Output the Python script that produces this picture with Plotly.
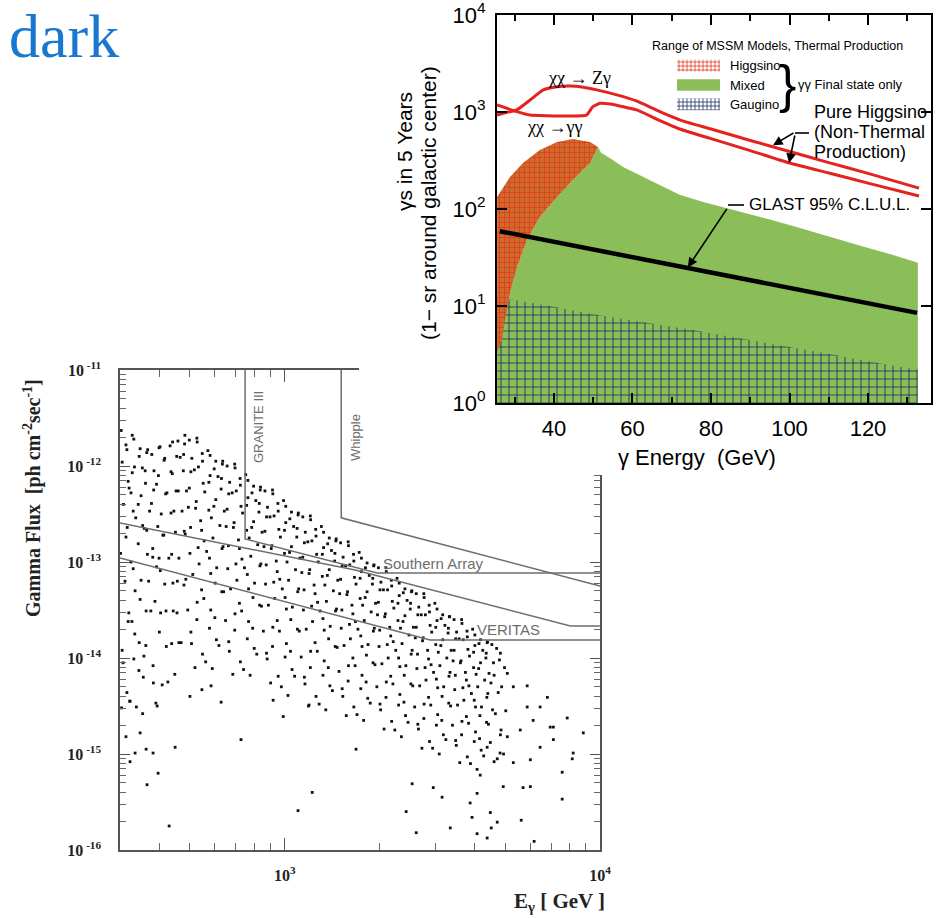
import numpy as np
import plotly.graph_objects as go

W, H = 937, 918

# ------------------------------------------------------------------
# Bottom chart (gamma flux vs energy), values stored as log10
# ------------------------------------------------------------------
BAND_LOGE = [
    2.481, 2.496, 2.484, 2.503, 2.488, 2.500, 2.479, 2.493, 2.505, 2.484, 2.499,
    2.521, 2.538, 2.516, 2.544, 2.527, 2.535, 2.519, 2.541, 2.524, 2.537, 2.529,
    2.565, 2.578, 2.557, 2.584, 2.571, 2.562, 2.581, 2.568, 2.575, 2.559, 2.583,
    2.604, 2.617, 2.599, 2.622, 2.608, 2.613, 2.601, 2.619, 2.606, 2.624, 2.611,
    2.644, 2.657, 2.639, 2.662, 2.648, 2.653, 2.641, 2.659, 2.646, 2.664, 2.651,
    2.683, 2.697, 2.679, 2.702, 2.688, 2.694, 2.681, 2.699, 2.686, 2.692, 2.704,
    2.722, 2.738, 2.726, 2.741, 2.719, 2.733, 2.744, 2.728, 2.736, 2.721, 2.739,
    2.763, 2.776, 2.759, 2.781, 2.767, 2.772, 2.761, 2.779, 2.765, 2.783, 2.770,
    2.803, 2.817, 2.799, 2.822, 2.808, 2.814, 2.801, 2.819, 2.806, 2.812, 2.824,
    2.842, 2.858, 2.846, 2.861, 2.839, 2.853, 2.864, 2.848, 2.856, 2.841, 2.859,
    2.883, 2.896, 2.879, 2.901, 2.887, 2.892, 2.881, 2.899, 2.885, 2.903, 2.890,
    2.923, 2.937, 2.919, 2.942, 2.928, 2.934, 2.921, 2.939, 2.926, 2.932, 2.944,
    2.962, 2.978, 2.966, 2.981, 2.959, 2.973, 2.984, 2.968, 2.976, 2.961, 2.979,
    3.003, 3.016, 2.999, 3.021, 3.007, 3.012, 3.001, 3.019, 3.005, 3.023, 3.010,
    3.043, 3.057, 3.039, 3.062, 3.048, 3.054, 3.041, 3.059, 3.046, 3.052, 3.064,
    3.082, 3.098, 3.086, 3.101, 3.079, 3.093, 3.104, 3.088, 3.096, 3.081, 3.099,
    3.123, 3.136, 3.119, 3.141, 3.127, 3.132, 3.121, 3.139, 3.125, 3.143, 3.130,
    3.163, 3.177, 3.159, 3.182, 3.168, 3.174, 3.161, 3.179, 3.166, 3.172, 3.184,
    3.202, 3.218, 3.206, 3.221, 3.199, 3.213, 3.224, 3.208, 3.216, 3.201, 3.219,
    3.243, 3.256, 3.239, 3.261, 3.247, 3.252, 3.241, 3.259, 3.245, 3.263, 3.250,
    3.283, 3.297, 3.279, 3.302, 3.288, 3.294, 3.281, 3.299, 3.286, 3.292, 3.304,
    3.322, 3.338, 3.326, 3.341, 3.319, 3.333, 3.344, 3.328, 3.336, 3.321, 3.339,
    3.363, 3.376, 3.359, 3.381, 3.367, 3.372, 3.361, 3.379, 3.365, 3.383, 3.370,
    3.403, 3.417, 3.399, 3.422, 3.408, 3.414, 3.401, 3.419, 3.406, 3.412, 3.424,
    3.442, 3.458, 3.446, 3.461, 3.439, 3.453, 3.464, 3.448, 3.456, 3.441, 3.459,
    3.483, 3.496, 3.479, 3.501, 3.487, 3.492, 3.481, 3.499, 3.485, 3.503, 3.490,
    3.523, 3.537, 3.519, 3.542, 3.528, 3.534, 3.521, 3.539, 3.526, 3.532, 3.544,
    3.562, 3.578, 3.566, 3.581, 3.559, 3.573, 3.584, 3.568, 3.576, 3.561, 3.579,
    3.603, 3.616, 3.599, 3.621, 3.607, 3.612, 3.601, 3.619, 3.605, 3.623, 3.610,
    3.643, 3.657, 3.639, 3.662, 3.648, 3.654, 3.641, 3.659, 3.646, 3.652, 3.664,
    3.684, 3.697, 3.688, 3.701, 3.686, 3.694,
    2.482, 2.508, 2.549, 2.591, 2.487, 2.512, 2.549, 2.593, 2.515, 2.553,
]
BAND_LOGF = [
    -11.63, -11.78, -11.96, -12.16, -12.40, -12.64, -12.91, -13.20, -13.53, -13.92, -14.36,
    -11.72, -11.90, -12.07, -12.31, -12.54, -12.81, -13.07, -13.39, -13.75, -14.13, -14.51,
    -11.83, -11.88, -12.05, -12.25, -12.47, -12.67, -12.95, -13.20, -13.51, -13.87, -14.26,
    -11.80, -11.94, -12.10, -12.29, -12.50, -12.72, -12.96, -13.23, -13.53, -13.88, -14.28,
    -11.75, -11.90, -12.06, -12.26, -12.47, -12.69, -12.92, -13.20, -13.51, -13.84, -14.17,
    -11.68, -11.73, -11.88, -12.06, -12.26, -12.43, -12.68, -12.91, -13.18, -13.50, -13.85,
    -11.75, -11.87, -12.01, -12.18, -12.37, -12.57, -12.78, -13.02, -13.29, -13.60, -13.96,
    -11.89, -12.03, -12.17, -12.35, -12.54, -12.75, -12.96, -13.22, -13.50, -13.81, -14.11,
    -11.95, -12.00, -12.13, -12.29, -12.47, -12.63, -12.86, -13.07, -13.31, -13.61, -13.93,
    -12.02, -12.13, -12.26, -12.42, -12.59, -12.77, -12.97, -13.19, -13.43, -13.71, -14.04,
    -12.15, -12.28, -12.41, -12.58, -12.75, -12.94, -13.13, -13.37, -13.62, -13.90, -14.18,
    -12.22, -12.26, -12.39, -12.53, -12.69, -12.84, -13.04, -13.23, -13.46, -13.72, -14.01,
    -12.29, -12.39, -12.52, -12.66, -12.83, -12.99, -13.18, -13.38, -13.61, -13.88, -14.19,
    -12.42, -12.55, -12.67, -12.84, -13.00, -13.19, -13.37, -13.60, -13.85, -14.12, -14.39,
    -12.49, -12.53, -12.65, -12.80, -12.96, -13.11, -13.31, -13.50, -13.72, -13.99, -14.27,
    -12.56, -12.66, -12.78, -12.92, -13.08, -13.24, -13.42, -13.62, -13.84, -14.10, -14.40,
    -12.69, -12.81, -12.92, -13.08, -13.24, -13.41, -13.59, -13.80, -14.03, -14.29, -14.54,
    -12.76, -12.80, -12.91, -13.04, -13.19, -13.33, -13.51, -13.69, -13.89, -14.14, -14.40,
    -12.83, -12.92, -13.03, -13.16, -13.31, -13.45, -13.62, -13.80, -14.00, -14.24, -14.51,
    -12.96, -13.06, -13.17, -13.31, -13.45, -13.61, -13.77, -13.97, -14.18, -14.42, -14.65,
    -13.03, -13.06, -13.17, -13.29, -13.43, -13.55, -13.72, -13.88, -14.07, -14.30, -14.54,
    -13.10, -13.19, -13.29, -13.41, -13.54, -13.68, -13.83, -14.00, -14.19, -14.41, -14.66,
    -13.22, -13.32, -13.43, -13.56, -13.69, -13.85, -14.00, -14.18, -14.38, -14.60, -14.82,
    -13.30, -13.33, -13.43, -13.55, -13.68, -13.79, -13.96, -14.11, -14.29, -14.51, -14.74,
    -13.37, -13.45, -13.55, -13.66, -13.79, -13.92, -14.07, -14.23, -14.41, -14.63, -14.87,
    -13.49, -13.59, -13.68, -13.81, -13.94, -14.08, -14.22, -14.40, -14.59, -14.80, -15.00,
    -13.57, -13.60, -13.69, -13.80, -13.92, -14.03, -14.19, -14.33, -14.50, -14.70, -14.91,
    -13.64, -13.72, -13.81, -13.91, -14.03, -14.15, -14.29, -14.44, -14.61, -14.80, -15.03,
    -13.76, -13.85, -13.94, -14.05, -14.17, -14.30, -14.44, -14.60, -14.77, -14.96, -15.16,
    -13.83, -13.86, -13.95, -14.05, -14.16, -14.26, -14.41, -14.54, -14.69, -14.88, -15.08,
    -13.95, -14.10, -14.30, -14.55, -14.75, -15.00,
    -14.52, -14.45, -14.58, -14.47, -14.05, -12.28, -12.62, -13.05, -13.62, -13.98,
]
BAND2_LOGE = [
    2.516, 2.499, 2.523, 2.506, 2.519, 2.496, 2.512, 2.525, 2.503, 2.521, 2.509,
    2.541, 2.562, 2.548, 2.558, 2.535, 2.554, 2.564, 2.544, 2.560, 2.538, 2.551,
    2.601, 2.585, 2.593, 2.577, 2.597, 2.581, 2.605, 2.588, 2.602, 2.582, 2.595,
    2.636, 2.619, 2.643, 2.626, 2.639, 2.616, 2.632, 2.645, 2.623, 2.641, 2.629,
    2.661, 2.682, 2.668, 2.678, 2.655, 2.674, 2.684, 2.664, 2.680, 2.658, 2.671,
    2.721, 2.705, 2.713, 2.697, 2.717, 2.701, 2.725, 2.708, 2.722, 2.702, 2.715,
    2.756, 2.739, 2.763, 2.746, 2.759, 2.736, 2.752, 2.765, 2.743, 2.761, 2.749,
    2.781, 2.802, 2.788, 2.798, 2.775, 2.794, 2.804, 2.784, 2.800, 2.778, 2.791,
    2.841, 2.825, 2.833, 2.817, 2.837, 2.821, 2.845, 2.828, 2.842, 2.822, 2.835,
    2.876, 2.859, 2.883, 2.866, 2.879, 2.856, 2.872, 2.885, 2.863, 2.881, 2.869,
    2.901, 2.922, 2.908, 2.918, 2.895, 2.914, 2.924, 2.904, 2.920, 2.898, 2.911,
    2.961, 2.945, 2.953, 2.937, 2.957, 2.941, 2.965, 2.948, 2.962, 2.942, 2.955,
    2.996, 2.979, 3.003, 2.986, 2.999, 2.976, 2.992, 3.005, 2.983, 3.001, 2.989,
    3.021, 3.042, 3.028, 3.038, 3.015, 3.034, 3.044, 3.024, 3.040, 3.018, 3.031,
    3.081, 3.065, 3.073, 3.057, 3.077, 3.061, 3.085, 3.068, 3.082, 3.062, 3.075,
    3.116, 3.099, 3.123, 3.106, 3.119, 3.096, 3.112, 3.125, 3.103, 3.121, 3.109,
    3.141, 3.162, 3.148, 3.158, 3.135, 3.154, 3.164, 3.144, 3.160, 3.138, 3.151,
    3.201, 3.185, 3.193, 3.177, 3.197, 3.181, 3.205, 3.188, 3.202, 3.182, 3.195,
    3.236, 3.219, 3.243, 3.226, 3.239, 3.216, 3.232, 3.245, 3.223, 3.241, 3.229,
    3.261, 3.282, 3.268, 3.278, 3.255, 3.274, 3.284, 3.264, 3.280, 3.258, 3.271,
    3.321, 3.305, 3.313, 3.297, 3.317, 3.301, 3.325, 3.308, 3.322, 3.302, 3.315,
    3.356, 3.339, 3.363, 3.346, 3.359, 3.336, 3.352, 3.365, 3.343, 3.361, 3.349,
    3.381, 3.402, 3.388, 3.398, 3.375, 3.394, 3.404, 3.384, 3.400, 3.378, 3.391,
    3.441, 3.425, 3.433, 3.417, 3.437, 3.421, 3.445, 3.428, 3.442, 3.422, 3.435,
    3.476, 3.459, 3.483, 3.466, 3.479, 3.456, 3.472, 3.485, 3.463, 3.481, 3.469,
    3.501, 3.522, 3.508, 3.518, 3.495, 3.514, 3.524, 3.504, 3.520, 3.498, 3.511,
    3.561, 3.545, 3.553, 3.537, 3.557, 3.541, 3.565, 3.548, 3.562, 3.542, 3.555,
    3.596, 3.579, 3.603, 3.586, 3.599, 3.576, 3.592, 3.605, 3.583, 3.601, 3.589,
    3.621, 3.642, 3.628, 3.638, 3.615, 3.634, 3.644, 3.624, 3.640, 3.618, 3.631,
    3.672, 3.681, 3.664, 3.677, 3.668, 3.684, 3.674,
]
BAND2_LOGF = [
    -11.68, -11.83, -12.01, -12.23, -12.47, -12.74, -13.00, -13.30, -13.62, -14.01, -14.45,
    -11.82, -11.86, -12.02, -12.18, -12.40, -12.65, -12.92, -13.19, -13.51, -13.84, -14.20,
    -11.81, -12.05, -12.19, -12.39, -12.63, -12.86, -13.09, -13.41, -13.73, -14.08, -14.50,
    -11.79, -11.92, -12.08, -12.28, -12.49, -12.72, -12.96, -13.22, -13.51, -13.85, -14.25,
    -11.74, -11.77, -11.91, -12.05, -12.26, -12.47, -12.71, -12.96, -13.24, -13.53, -13.84,
    -11.71, -11.92, -12.04, -12.23, -12.44, -12.64, -12.85, -13.13, -13.42, -13.73, -14.10,
    -11.84, -11.95, -12.10, -12.27, -12.46, -12.67, -12.89, -13.12, -13.38, -13.69, -14.04,
    -11.95, -11.98, -12.11, -12.24, -12.42, -12.62, -12.84, -13.06, -13.31, -13.58, -13.87,
    -11.98, -12.17, -12.28, -12.45, -12.64, -12.83, -13.02, -13.28, -13.54, -13.83, -14.17,
    -12.09, -12.20, -12.33, -12.49, -12.67, -12.86, -13.06, -13.28, -13.51, -13.80, -14.12,
    -12.21, -12.25, -12.36, -12.48, -12.64, -12.82, -13.02, -13.22, -13.45, -13.69, -13.96,
    -12.25, -12.43, -12.53, -12.68, -12.86, -13.03, -13.21, -13.45, -13.68, -13.95, -14.26,
    -12.36, -12.47, -12.59, -12.74, -12.91, -13.10, -13.28, -13.49, -13.72, -13.99, -14.30,
    -12.48, -12.51, -12.63, -12.74, -12.90, -13.08, -13.28, -13.47, -13.70, -13.93, -14.19,
    -12.52, -12.69, -12.79, -12.95, -13.12, -13.29, -13.46, -13.70, -13.93, -14.20, -14.50,
    -12.63, -12.73, -12.85, -13.00, -13.15, -13.33, -13.51, -13.71, -13.93, -14.18, -14.48,
    -12.75, -12.78, -12.88, -12.99, -13.14, -13.30, -13.49, -13.67, -13.88, -14.10, -14.34,
    -12.79, -12.95, -13.04, -13.18, -13.34, -13.50, -13.65, -13.87, -14.08, -14.32, -14.60,
    -12.90, -12.99, -13.10, -13.23, -13.38, -13.54, -13.70, -13.88, -14.08, -14.32, -14.59,
    -13.01, -13.04, -13.14, -13.23, -13.37, -13.52, -13.69, -13.86, -14.05, -14.25, -14.47,
    -13.06, -13.21, -13.29, -13.42, -13.57, -13.71, -13.86, -14.06, -14.25, -14.48, -14.74,
    -13.17, -13.25, -13.35, -13.48, -13.61, -13.77, -13.92, -14.09, -14.27, -14.49, -14.75,
    -13.28, -13.31, -13.40, -13.49, -13.62, -13.76, -13.92, -14.08, -14.27, -14.46, -14.67,
    -13.33, -13.47, -13.55, -13.68, -13.82, -13.96, -14.10, -14.29, -14.48, -14.69, -14.94,
    -13.43, -13.52, -13.61, -13.73, -13.86, -14.01, -14.15, -14.31, -14.49, -14.70, -14.94,
    -13.55, -13.57, -13.66, -13.74, -13.87, -14.00, -14.15, -14.30, -14.47, -14.65, -14.85,
    -13.60, -13.73, -13.80, -13.92, -14.05, -14.18, -14.31, -14.49, -14.66, -14.86, -15.09,
    -13.70, -13.78, -13.87, -13.98, -14.10, -14.23, -14.37, -14.51, -14.68, -14.87, -15.10,
    -13.81, -13.84, -13.92, -14.00, -14.11, -14.23, -14.37, -14.51, -14.67, -14.84, -15.02,
    -13.90, -14.02, -14.18, -14.36, -14.58, -14.80, -15.05,
]
SPARSE_LOGE = [
    2.496, 2.541, 2.525, 2.560, 2.582, 2.598, 2.563, 2.509, 2.633, 2.652,
    2.699, 2.737, 2.766, 2.798, 2.861, 2.963, 2.995, 3.042, 3.087, 3.077,
    3.226, 3.385, 3.417, 3.525, 3.610, 3.642, 3.655, 3.674, 3.652, 3.594,
    3.750, 3.791, 3.880, 3.880, 3.912, 3.947, 3.896, 3.833, 3.769, 3.779,
    3.756, 3.693, 3.620, 3.610, 3.588, 3.499, 3.471, 3.404, 3.842, 3.810,
    3.852, 3.706, 3.725, 3.769, 3.788, 3.810, 3.747, 3.706, 3.683, 3.642,
    3.852, 3.779, 3.725, 3.915,
]
SPARSE_LOGF = [
    -14.82, -14.78, -14.99, -14.95, -14.99, -15.20, -15.32, -15.08, -15.75, -14.93,
    -14.40, -14.33, -14.29, -14.46, -14.85, -14.44, -14.61, -15.59, -15.40, -14.49,
    -14.95, -15.60, -15.82, -15.77, -15.83, -15.875, -15.77, -15.71, -15.61, -15.66,
    -15.69, -15.91, -15.47, -15.19, -15.05, -14.78, -14.625, -14.41, -14.29, -15.34,
    -15.35, -15.34, -15.22, -15.41, -15.51, -15.45, -15.35, -15.31, -14.72, -14.93,
    -14.85, -14.16, -14.30, -14.51, -14.65, -14.51, -14.75, -14.82, -14.99, -14.93,
    -14.72, -15.06, -15.09, -14.99,
]

# detector sensitivity curves (log10 E, log10 flux)
GRANITE_LOGE = [2.874, 2.874, 3.293, 4.0]
GRANITE_LOGF = [-11.0, -12.76, -13.115, -13.115]
WHIPPLE_LOGE = [3.179, 3.179, 4.0]
WHIPPLE_LOGF = [-11.0, -12.54, -13.25]
SENS_A_LOGE = [2.477, 3.223, 3.906, 4.0]
SENS_A_LOGF = [-12.594, -13.083, -13.667, -13.667]
VERITAS_LOGE = [2.477, 3.461, 4.0]
VERITAS_LOGF = [-12.958, -13.8125, -13.8125]

BOT_X_TICKS = [1e3, 1e4]
BOT_X_LABELS = ["10<sup>3</sup>", "10<sup>4</sup>"]
BOT_Y_TICKS = [1e-16, 1e-15, 1e-14, 1e-13, 1e-12, 1e-11]
BOT_Y_LABELS = ["10<sup> -16</sup>", "10<sup> -15</sup>", "10<sup> -14</sup>",
                "10<sup> -13</sup>", "10<sup> -12</sup>", "10<sup> -11</sup>"]
BOT_X_MINOR = [m * 10 ** e for e in (2, 3) for m in range(2, 10)]
BOT_Y_MINOR = [m * 10.0 ** e for e in range(-16, -11) for m in range(2, 10)]

# ------------------------------------------------------------------
# Top chart (gamma counts in 5 years vs energy)
# ------------------------------------------------------------------
ZG_E = [25.5, 28, 30.5, 33.9, 37.3, 40.7, 44.1, 47.5, 50.9, 56, 61, 66, 72, 80, 90, 100, 110, 120, 133]
ZG_V = [930, 990, 1050, 1330, 1690, 1820, 1850, 1800, 1690, 1500, 1300, 1050, 830, 668, 509, 392, 301, 233, 164]
GG_E = [25.5, 30.5, 33.9, 38, 42.3, 48.3, 49.9, 51.7, 54.3, 61.1, 66, 72, 80, 90, 100, 110, 120, 133]
GG_V = [1180, 1010, 930, 915, 910, 930, 1135, 1230, 1210, 1050, 850, 668, 532, 400, 298, 235, 185, 136]

HIGGS_TOP_E = [25.5, 28.8, 32.1, 36.4, 40.8, 44.8, 49.2, 51.2]
HIGGS_TOP_V = [133, 214, 298, 405, 491, 527, 491, 436]
HIGGS_EDGE_E = [51.2, 49.2, 44.8, 40.8, 36.4, 33.1, 30.6, 28.8, 27.5, 26.8, 25.7]
HIGGS_EDGE_V = [436, 298, 199, 133, 82.8, 47.9, 25.2, 13.6, 7.2, 4.5, 3.5]

MIXED_TOP_E = [51.2, 52, 55, 57.6, 62, 66, 72, 78, 85, 95, 102, 110, 118.7, 126, 132.7]
MIXED_TOP_V = [436, 380, 320, 271, 222, 185, 140, 118, 100, 78, 65, 52, 41, 34, 28]

GAUGINO_TOP_E = [25.5, 30, 40, 50, 62.7, 75, 86.6, 97, 108.5, 120, 132.7]
GAUGINO_TOP_V = [12, 11.5, 9.8, 8.2, 6.8, 5.7, 4.7, 4.0, 3.3, 2.7, 2.2]

GLAST_E = [26.2, 132.5]
GLAST_V = [59, 8.5]

E_LEFT, E_RIGHT, V_FLOOR = 25.5, 132.7, 1.0

TOP_X_TICKS = [40, 60, 80, 100, 120]
TOP_X_MINOR = [30, 50, 70, 90, 110, 130]
TOP_Y_TICKS = [1, 10, 100, 1000, 10000]
TOP_Y_LABELS = ["10<sup>0</sup>", "10<sup>1</sup>", "10<sup>2</sup>", "10<sup>3</sup>", "10<sup>4</sup>"]

LEGEND_NAMES = ["Higgsino", "Mixed", "Gaugino"]

GREEN = "#8bbd58"
ORANGE = "#cc6c2a"
HRED = "#e3361f"
NAVY = "#1c2c5c"
CURVE_RED = "#e4231f"
GREY = "#6e6e6e"

fig = go.Figure()

# ---------------- bottom chart traces ----------------
lx = np.array(BAND_LOGE + BAND2_LOGE + SPARSE_LOGE)
ly = np.array(BAND_LOGF + BAND2_LOGF + SPARSE_LOGF)
fig.add_trace(go.Scatter(x=10 ** lx, y=10 ** ly, mode="markers", xaxis="x", yaxis="y",
                         marker=dict(symbol="square", size=2.8, color="#111"),
                         showlegend=False, hoverinfo="skip"))
for le, lf in [(GRANITE_LOGE, GRANITE_LOGF), (WHIPPLE_LOGE, WHIPPLE_LOGF),
               (SENS_A_LOGE, SENS_A_LOGF), (VERITAS_LOGE, VERITAS_LOGF)]:
    fig.add_trace(go.Scatter(x=10 ** np.array(le), y=10 ** np.array(lf), mode="lines",
                             xaxis="x", yaxis="y", line=dict(color=GREY, width=1.5),
                             showlegend=False, hoverinfo="skip"))

# ---------------- cover panel (white backdrop of the inset) ----------------
fig.add_trace(go.Scatter(x=[0.5], y=[0.5], xaxis="x2", yaxis="y2", mode="markers",
                         marker=dict(opacity=0), showlegend=False, hoverinfo="skip"))

# ---------------- top chart traces ----------------
green_x = [E_LEFT, E_LEFT] + HIGGS_EDGE_E[::-1] + MIXED_TOP_E[1:] + [E_RIGHT]
green_y = [V_FLOOR, HIGGS_EDGE_V[-1]] + HIGGS_EDGE_V[::-1] + MIXED_TOP_V[1:] + [V_FLOOR]
fig.add_trace(go.Scatter(x=green_x, y=green_y, xaxis="x3", yaxis="y3", fill="toself",
                         fillcolor=GREEN, mode="lines", line=dict(width=0, color=GREEN),
                         showlegend=False, hoverinfo="skip"))

blue_x = [E_LEFT] + GAUGINO_TOP_E + [E_RIGHT]
blue_y = [V_FLOOR] + GAUGINO_TOP_V + [V_FLOOR]
fig.add_trace(go.Scatter(x=blue_x, y=blue_y, xaxis="x3", yaxis="y3", fill="toself",
                         fillcolor=GREEN, mode="lines", line=dict(width=0, color=GREEN),
                         fillpattern=dict(shape="+", fgcolor=NAVY, bgcolor=GREEN, size=8,
                                          solidity=0.2, fillmode="replace"),
                         showlegend=False, hoverinfo="skip"))

orange_x = [E_LEFT] + HIGGS_TOP_E + HIGGS_EDGE_E[1:]
orange_y = [HIGGS_EDGE_V[-1]] + HIGGS_TOP_V + HIGGS_EDGE_V[1:]
fig.add_trace(go.Scatter(x=orange_x, y=orange_y, xaxis="x3", yaxis="y3", fill="toself",
                         fillcolor=ORANGE, mode="lines", line=dict(width=0, color=ORANGE),
                         fillpattern=dict(shape="+", fgcolor=HRED, bgcolor=ORANGE, size=5,
                                          solidity=0.28, fillmode="replace"),
                         showlegend=False, hoverinfo="skip"))

fig.add_trace(go.Scatter(x=GLAST_E, y=GLAST_V, xaxis="x3", yaxis="y3", mode="lines",
                         line=dict(color="black", width=4.5), showlegend=False, hoverinfo="skip"))
fig.add_trace(go.Scatter(x=ZG_E, y=ZG_V, xaxis="x3", yaxis="y3", mode="lines",
                         line=dict(color=CURVE_RED, width=3, shape="spline", smoothing=0.6),
                         showlegend=False, hoverinfo="skip"))
fig.add_trace(go.Scatter(x=GG_E, y=GG_V, xaxis="x3", yaxis="y3", mode="lines",
                         line=dict(color=CURVE_RED, width=3, shape="spline", smoothing=0.4),
                         showlegend=False, hoverinfo="skip"))

# ---------------- legend key boxes (small inset axes) ----------------
key_styles = [(HRED, "white", "+"), (GREEN, GREEN, ""), (NAVY, "white", "+")]
for i, (fg, bg, shape) in enumerate(key_styles):
    row = len(key_styles) - 1 - i
    kw = dict(fillcolor=bg)
    if shape:
        kw["fillpattern"] = dict(shape=shape, fgcolor=fg, bgcolor=bg, size=4, solidity=0.35,
                                 fillmode="replace")
    fig.add_trace(go.Scatter(x=[0, 1, 1, 0, 0], y=[row + 0.2, row + 0.2, row + 0.8, row + 0.8, row + 0.2],
                             xaxis="x4", yaxis="y4", fill="toself", mode="lines",
                             line=dict(width=0, color=bg), showlegend=False,
                             hoverinfo="skip", **kw))

# ---------------- layout ----------------
serif_b = dict(family="Liberation Serif", size=16, color="#222", weight="bold")
sans = "Liberation Sans"

fig.update_layout(
    width=W, height=H, autosize=False,
    margin=dict(l=0, r=0, t=0, b=0, pad=0, autoexpand=False),
    paper_bgcolor="white", plot_bgcolor="white", showlegend=False,
    xaxis=dict(domain=[120 / W, 600 / W], anchor="y", type="log", automargin=False,
               range=[np.log10(300), 4], showline=True, linecolor="#555", linewidth=1.5,
               mirror="ticks", ticks="inside", ticklen=12, tickwidth=1.3, tickcolor="#555",
               tickmode="array", tickvals=BOT_X_TICKS, ticktext=BOT_X_LABELS,
               tickfont=serif_b, ticklabelstandoff=10, ticklabeloverflow="allow",
               minor=dict(ticks="inside", ticklen=7, tickwidth=1, tickcolor="#666",
                          tickmode="array", tickvals=BOT_X_MINOR, showgrid=False),
               showgrid=False, zeroline=False),
    yaxis=dict(domain=[1 - 850 / H, 1 - 370 / H], anchor="x", type="log", automargin=False,
               range=[-16, -11], showline=True, linecolor="#555", linewidth=1.5,
               mirror="ticks", ticks="inside", ticklen=10, tickwidth=1.3, tickcolor="#555",
               tickmode="array", tickvals=BOT_Y_TICKS, ticktext=BOT_Y_LABELS,
               tickfont=serif_b, ticklabelstandoff=14, ticklabeloverflow="allow",
               minor=dict(ticks="inside", ticklen=6, tickwidth=1, tickcolor="#666",
                          tickmode="array", tickvals=BOT_Y_MINOR, showgrid=False),
               showgrid=False, zeroline=False),
    xaxis2=dict(domain=[359 / W, 1.0], anchor="y2", range=[0, 1], visible=False,
                automargin=False),
    yaxis2=dict(domain=[1 - 475 / H, 1.0], anchor="x2", range=[0, 1], visible=False,
                automargin=False),
    xaxis3=dict(domain=[497 / W, 931 / W], anchor="y3", range=[25.48, 136.05],
                automargin=False,
                showline=True, linecolor="black", linewidth=2, mirror="ticks",
                ticks="inside", ticklen=10, tickwidth=2, tickcolor="black",
                tickmode="array", tickvals=TOP_X_TICKS,
                tickfont=dict(family=sans, size=22, color="black"), ticklabelstandoff=5,
                ticklabeloverflow="allow",
                minor=dict(ticks="inside", ticklen=6, tickwidth=2, tickcolor="black",
                           tickmode="array", tickvals=TOP_X_MINOR, showgrid=False),
                showgrid=False, zeroline=False),
    yaxis3=dict(domain=[1 - 403 / H, 1 - 15 / H], anchor="x3", type="log", range=[0, 4],
                automargin=False,
                showline=True, linecolor="black", linewidth=2, mirror="ticks",
                ticks="inside", ticklen=10, tickwidth=2, tickcolor="black",
                tickmode="array", tickvals=TOP_Y_TICKS, ticktext=TOP_Y_LABELS,
                tickfont=dict(family=sans, size=22, color="black"), ticklabelstandoff=5,
                ticklabeloverflow="allow",
                showgrid=False, zeroline=False),
    xaxis4=dict(domain=[677 / W, 720 / W], anchor="y4", range=[0, 1], visible=False,
                automargin=False),
    yaxis4=dict(domain=[1 - 114 / H, 1 - 56 / H], anchor="x4", range=[0, 3], visible=False,
                automargin=False),
)


def ann(text, px, py, size, family=sans, color="black", xanchor="center", angle=0,
        weight="normal"):
    return dict(text=text, x=px / W, y=1 - py / H, xref="paper", yref="paper",
                showarrow=False, xanchor=xanchor, yanchor="middle", textangle=angle,
                font=dict(family=family, size=size, color=color, weight=weight))


annotations = [
    ann("dark", 7, 36, 62, family="Liberation Serif", color="#1877cf", xanchor="left"),
    # bottom chart labels
    ann("Gamma Flux  [ph cm<sup>-2</sup>sec<sup>-1</sup>]", 33, 498, 20,
        family="Liberation Serif", color="#222", angle=-90, weight="bold"),
    ann("E<sub>γ</sub> [ GeV ]", 559, 902, 21, family="Liberation Serif", color="#222",
        weight="bold"),
    ann("GRANITE III", 258, 427, 13, color=GREY, angle=-90),
    ann("Whipple", 355, 438, 13, color=GREY, angle=-90),
    ann("Southern Array", 433, 563, 15, color=GREY),
    ann("VERITAS", 508, 629, 15, color=GREY),
    # top chart labels
    ann("γs in 5 Years", 404, 152, 21, angle=-90),
    ann("(1− sr around galactic center)", 428, 203, 21, angle=-90),
    ann("γ Energy  (GeV)", 697, 457, 22),
    ann("χχ → Zγ", 579, 78, 18, family="Liberation Serif"),
    ann("χχ →γγ", 554, 127, 18, family="Liberation Serif"),
    ann("Range of MSSM Models, Thermal Production", 650, 46, 12.5, xanchor="left"),
    ann("}", 787, 84, 52),
    ann("γγ Final state only", 796, 84, 13, xanchor="left"),
    ann("Pure Higgsino", 812, 112, 18, xanchor="left"),
    ann("(Non-Thermal", 812, 132, 18, xanchor="left"),
    ann("Production)", 812, 152, 18, xanchor="left"),
    ann("GLAST 95% C.L.U.L.", 747, 205, 17, xanchor="left"),
    # arrows
    dict(x=74.1, y=np.log10(25), xref="x3", yref="y3", ax=40, ay=-60, text="",
         showarrow=True, arrowhead=2, arrowsize=1.2, arrowwidth=1.6, arrowcolor="black"),
    dict(x=95.8, y=np.log10(455), xref="x3", yref="y3", ax=22, ay=-13, text="",
         showarrow=True, arrowhead=2, arrowsize=1.2, arrowwidth=1.6, arrowcolor="black"),
    dict(x=99.9, y=np.log10(298), xref="x3", yref="y3", ax=6, ay=-29, text="",
         showarrow=True, arrowhead=2, arrowsize=1.2, arrowwidth=1.6, arrowcolor="black"),
]
for i, name in enumerate(LEGEND_NAMES):
    annotations.append(dict(text=name, x=1.0, y=len(LEGEND_NAMES) - 1 - i + 0.5,
                            xref="x4", yref="y4", xshift=8, showarrow=False,
                            xanchor="left", yanchor="middle",
                            font=dict(family=sans, size=13, color="black")))
fig.update_layout(annotations=annotations)

shapes = [
    dict(type="line", xref="paper", yref="paper", x0=728 / W, x1=744 / W,
         y0=1 - 205 / H, y1=1 - 205 / H, line=dict(color="black", width=1.6)),
    dict(type="line", xref="paper", yref="paper", x0=795 / W, x1=809 / W,
         y0=1 - 133 / H, y1=1 - 133 / H, line=dict(color="black", width=1.6)),
]
fig.update_layout(shapes=shapes)

fig.write_html("out.html")
